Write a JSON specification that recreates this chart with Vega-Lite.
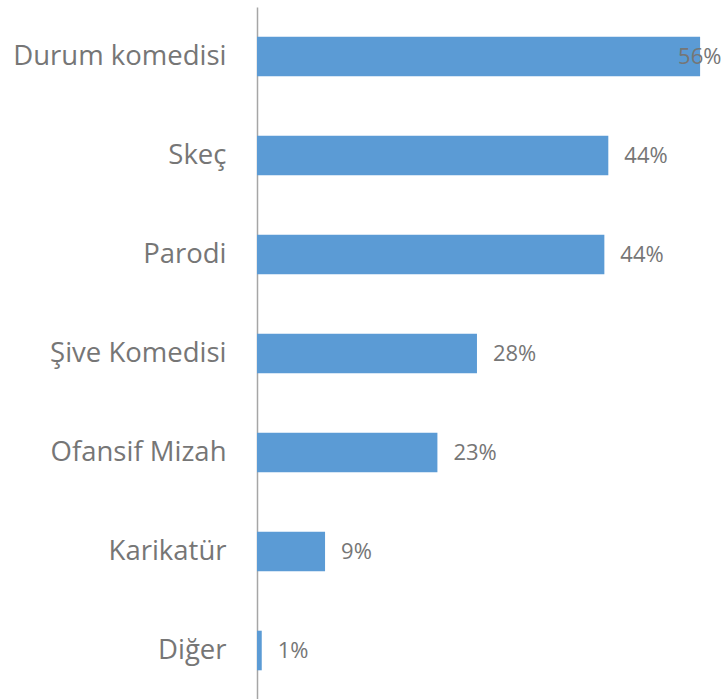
{
  "$schema": "https://vega.github.io/schema/vega-lite/v6.json",
  "autosize": "none",
  "padding": {"left": 257, "top": 7, "right": 0, "bottom": 0},
  "width": 470,
  "height": 693,
  "background": "white",
  "config": {"view": {"stroke": null}, "font": "Open Sans"},
  "data": {
    "values": [
      {"category": "Durum komedisi", "share": 0.560, "inside": true},
      {"category": "Skeç", "share": 0.444, "inside": false},
      {"category": "Parodi", "share": 0.439, "inside": false},
      {"category": "Şive Komedisi", "share": 0.278, "inside": false},
      {"category": "Ofansif Mizah", "share": 0.228, "inside": false},
      {"category": "Karikatür", "share": 0.086, "inside": false},
      {"category": "Diğer", "share": 0.006, "inside": false}
    ]
  },
  "encoding": {
    "y": {
      "field": "category",
      "type": "nominal",
      "sort": null,
      "scale": {"paddingInner": 0.6, "paddingOuter": 0.3},
      "axis": {
        "title": null,
        "ticks": false,
        "labelPadding": 31,
        "labelFontSize": 27.5,
        "labelLimit": 400,
        "labelColor": "#767676",
        "labelFont": "Open Sans",
        "labelFontWeight": "normal",
        "domainColor": "#a6a6a6",
        "domainWidth": 1.5
      }
    },
    "x": {
      "field": "share",
      "type": "quantitative",
      "scale": {"domain": [0, 0.594], "nice": false},
      "axis": null
    }
  },
  "layer": [
    {"mark": {"type": "bar", "color": "#5b9bd5"}},
    {
      "transform": [{"filter": "!datum.inside"}],
      "mark": {"type": "text", "align": "left", "baseline": "middle", "dx": 16, "fontSize": 22, "color": "#767676", "font": "Open Sans"},
      "encoding": {"text": {"field": "share", "type": "quantitative", "format": ".0%"}}
    },
    {
      "transform": [{"filter": "datum.inside"}],
      "mark": {"type": "text", "align": "left", "baseline": "middle", "dx": -22, "fontSize": 22, "color": "#767676", "font": "Open Sans"},
      "encoding": {"text": {"field": "share", "type": "quantitative", "format": ".0%"}}
    }
  ]
}
